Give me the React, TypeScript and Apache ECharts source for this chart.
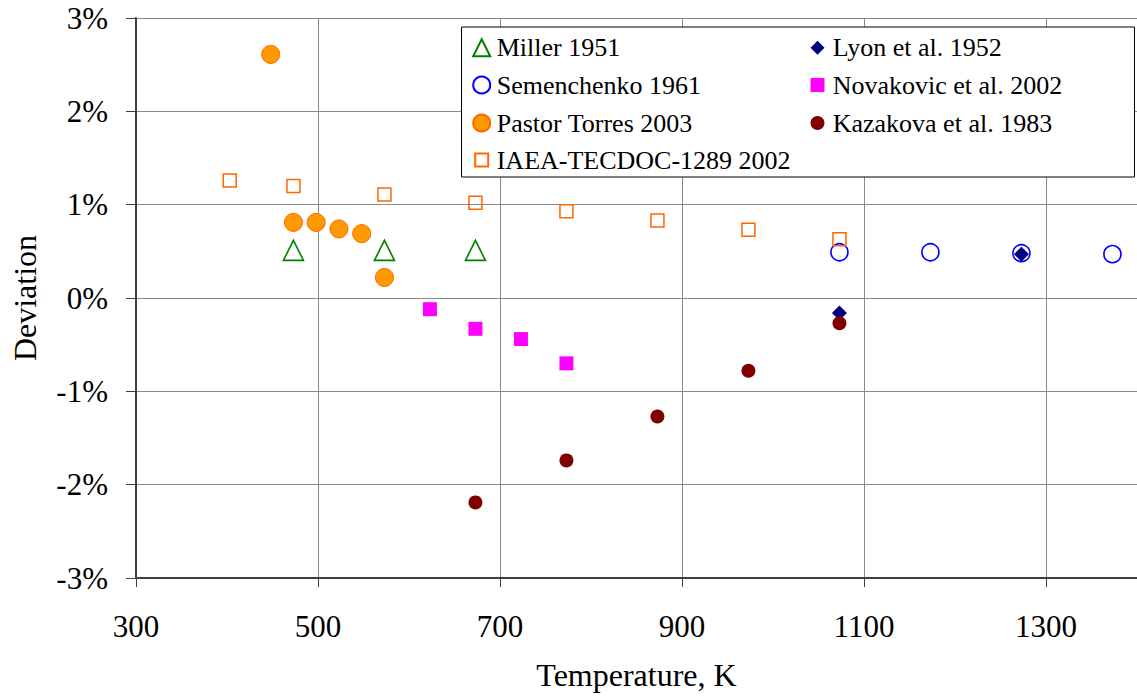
import { useEffect, useRef } from "react";
import * as echarts from "echarts";

const FONT = "Liberation Serif";

// Temperatures (K) and deviations (%) for each data source
const millerT = [473, 573, 673];
const millerDev = [0.51, 0.51, 0.51];

const lyonT = [1073, 1273];
const lyonDev = [-0.16, 0.47];

const semenchenkoT = [1073, 1173, 1273, 1373];
const semenchenkoDev = [0.49, 0.49, 0.48, 0.47];

const novakovicT = [623, 673, 723, 773];
const novakovicDev = [-0.12, -0.33, -0.44, -0.7];

const pastorT = [448, 473, 498, 523, 548, 573];
const pastorDev = [2.61, 0.81, 0.81, 0.74, 0.69, 0.22];

const kazakovaT = [673, 773, 873, 973, 1073];
const kazakovaDev = [-2.19, -1.74, -1.27, -0.78, -0.27];

const iaeaT = [403, 473, 573, 673, 773, 873, 973, 1073];
const iaeaDev = [1.26, 1.2, 1.11, 1.02, 0.93, 0.83, 0.73, 0.63];

const seriesNames = [
  "Miller 1951",
  "Lyon et al. 1952",
  "Semenchenko 1961",
  "Novakovic et al. 2002",
  "Pastor Torres 2003",
  "Kazakova et al. 1983",
  "IAEA-TECDOC-1289 2002",
];

const pairs = (t: number[], d: number[]) => t.map((x, i) => [x, d[i]]);

type Spec = {
  name: string;
  data: number[][];
  symbol: string;
  size: number;
  fill: string;
  stroke: string;
  lw: number;
  legendSize: number;
  col: number;
  row: number;
};

const specs: Spec[] = [
  { name: seriesNames[0], data: pairs(millerT, millerDev), symbol: "triangle", size: 20, fill: "transparent", stroke: "#008000", lw: 1.6, legendSize: 17, col: 0, row: 0 },
  { name: seriesNames[2], data: pairs(semenchenkoT, semenchenkoDev), symbol: "circle", size: 17, fill: "transparent", stroke: "#0000FF", lw: 1.6, legendSize: 17, col: 0, row: 1 },
  { name: seriesNames[6], data: pairs(iaeaT, iaeaDev), symbol: "rect", size: 13, fill: "transparent", stroke: "#FF6600", lw: 1.5, legendSize: 13, col: 0, row: 3 },
  { name: seriesNames[1], data: pairs(lyonT, lyonDev), symbol: "diamond", size: 15, fill: "#000080", stroke: "#000080", lw: 0, legendSize: 14, col: 1, row: 0 },
  { name: seriesNames[3], data: pairs(novakovicT, novakovicDev), symbol: "rect", size: 14, fill: "#FF00FF", stroke: "#FF00FF", lw: 0, legendSize: 14, col: 1, row: 1 },
  { name: seriesNames[4], data: pairs(pastorT, pastorDev), symbol: "circle", size: 18, fill: "#FF9900", stroke: "#FF6600", lw: 1, legendSize: 17, col: 0, row: 2 },
  { name: seriesNames[5], data: pairs(kazakovaT, kazakovaDev), symbol: "circle", size: 14, fill: "#800000", stroke: "#800000", lw: 0, legendSize: 14, col: 1, row: 2 },
];

export default function App() {
  const ref = useRef<HTMLDivElement>(null);

  useEffect(() => {
    if (!ref.current) return;
    const chart = echarts.init(ref.current, undefined, { renderer: "svg" });

    const colSymbolX = [480.7, 817.5];
    const colTextX = [495.7, 832.7];
    const rowY = [47.7, 85, 123, 160];

    const legends = specs.map((s) => {
      const cx = colSymbolX[s.col];
      const sz = s.legendSize;
      return {
        data: [{ name: s.name, textStyle: { fontFamily: FONT } }],
        orient: "vertical",
        left: cx - sz / 2,
        top: rowY[s.row] - 13,
        itemWidth: sz,
        itemHeight: sz,
        itemGap: 0,
        padding: 0,
        selectedMode: false,
        textStyle: {
          fontFamily: FONT,
          fontSize: 26,
          fontWeight: "normal",
          color: "#000",
          padding: [0, 0, 0, colTextX[s.col] - (cx + sz / 2) - 5],
        },
        z: 5,
      };
    });

    chart.setOption({
      animation: false,
      backgroundColor: "#fff",
      textStyle: { fontFamily: FONT },
      grid: { left: 136, top: 18, width: 1004, height: 560 },
      xAxis: {
        type: "value",
        min: 300,
        max: 1400,
        interval: 200,
        name: "Temperature, K",
        nameLocation: "middle",
        nameGap: 81,
        nameTextStyle: { fontFamily: FONT, fontSize: 32, color: "#000" },
        axisLine: { show: true, onZero: false, lineStyle: { color: "#404040", width: 2 } },
        axisTick: { show: true, length: 9, lineStyle: { color: "#404040", width: 1 } },
        axisLabel: {
          fontFamily: FONT,
          fontSize: 31,
          fontWeight: "normal",
          color: "#000",
          margin: 33,
          showMaxLabel: false,
          formatter: (v: number) => String(v),
        },
        splitLine: { show: true, lineStyle: { color: "#8a8a8a", width: 1 } },
      },
      yAxis: {
        type: "value",
        min: -3,
        max: 3,
        interval: 1,
        name: "Deviation",
        nameLocation: "middle",
        nameGap: 95,
        nameTextStyle: { fontFamily: FONT, fontSize: 32, color: "#000" },
        axisLine: { show: true, onZero: false, lineStyle: { color: "#404040", width: 2 } },
        axisTick: { show: true, length: 10, lineStyle: { color: "#404040", width: 1 } },
        axisLabel: {
          fontFamily: FONT,
          fontSize: 31,
          fontWeight: "normal",
          color: "#000",
          margin: 28,
          formatter: (v: number) => `${v}%`,
        },
        splitLine: { show: true, lineStyle: { color: "#8a8a8a", width: 1 } },
      },
      legend: legends,
      graphic: [
        {
          type: "rect",
          z: 3,
          shape: { x: 461.5, y: 27, width: 673, height: 150 },
          style: { fill: "#fff", stroke: "#000", lineWidth: 1 },
        },
      ],
      series: specs.map((s) => ({
        name: s.name,
        type: "scatter",
        data: s.data,
        symbol: s.symbol,
        symbolSize: s.size,
        itemStyle: {
          color: s.fill,
          borderColor: s.stroke,
          borderWidth: s.lw,
          opacity: 1,
        },
        emphasis: { disabled: true },
      })),
    });

    return () => chart.dispose();
  }, []);

  return (
    <div
      ref={ref}
      style={{ position: "absolute", left: 0, top: 0, width: 1137, height: 696 }}
    />
  );
}
